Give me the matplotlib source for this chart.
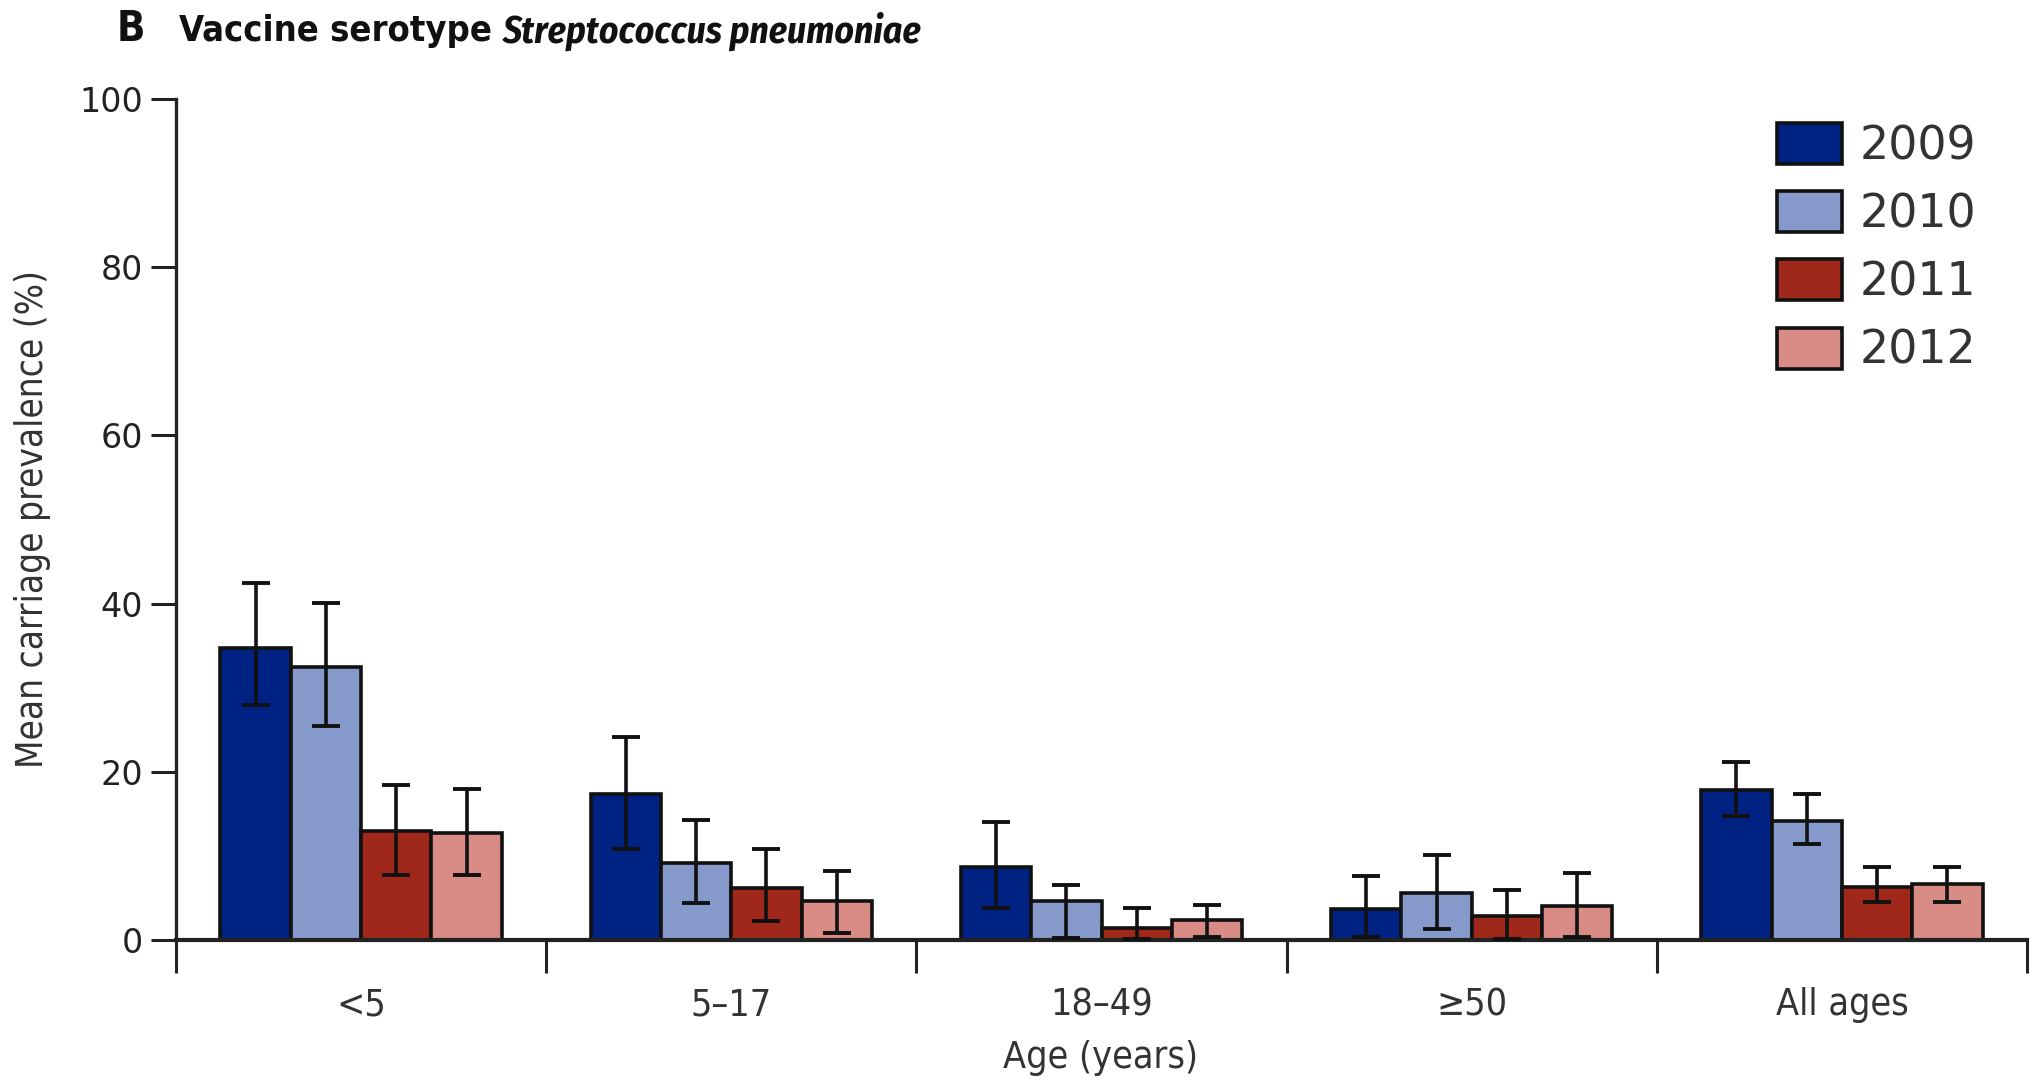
import matplotlib
matplotlib.use("Agg")
import matplotlib.pyplot as plt
from matplotlib import font_manager as fm
from matplotlib.font_manager import FontProperties
import numpy as np

# ---- data ----
groups = ["<5", "5\u201317", "18\u201349", "\u226550", "All ages"]
years = ["2009", "2010", "2011", "2012"]
mean_2009 = [34.7, 17.4, 8.7, 3.7, 17.8]
mean_2010 = [32.5, 9.2, 4.6, 5.6, 14.2]
mean_2011 = [13.0, 6.2, 1.4, 2.9, 6.3]
mean_2012 = [12.7, 4.6, 2.4, 4.0, 6.6]
low_2009 = [27.9, 10.8, 3.8, 0.3, 14.7]
high_2009 = [42.4, 24.1, 14.0, 7.6, 21.2]
low_2010 = [25.4, 4.4, 0.2, 1.3, 11.4]
high_2010 = [40.1, 14.3, 6.5, 10.1, 17.4]
low_2011 = [7.7, 2.2, 0.1, 0.1, 4.5]
high_2011 = [18.4, 10.8, 3.8, 5.9, 8.7]
low_2012 = [7.7, 0.8, 0.3, 0.3, 4.5]
high_2012 = [18.0, 8.2, 4.2, 8.0, 8.7]
yticks = [0, 20, 40, 60, 80, 100]

means = [mean_2009, mean_2010, mean_2011, mean_2012]
lows = [low_2009, low_2010, low_2011, low_2012]
highs = [high_2009, high_2010, high_2011, high_2012]
colors = ["#002383", "#8599CB", "#A0281B", "#D98B85"]


def wnum(w):
    if isinstance(w, (int, float)):
        return int(w)
    return {"normal": 400, "regular": 400, "book": 400, "bold": 700,
            "medium": 500, "semibold": 600, "light": 300}.get(str(w).lower(), 400)


def condensed_font(bold=False, italic=False):
    want_w = 700 if bold else 400
    want_s = "italic" if italic else "normal"
    best = None
    for f in fm.fontManager.ttflist:
        st = str(f.stretch).lower()
        if "condensed" not in st or "extra" in st or "ultra" in st:
            continue
        if f.style != want_s:
            continue
        if abs(wnum(f.weight) - want_w) > 100:
            continue
        score = 0 if "Sans" in f.name else 1
        if best is None or score < best[0]:
            best = (score, f.fname)
    if best:
        return best[1]
    return None


def fp(size, bold=False, italic=False):
    path = condensed_font(bold, italic)
    if path:
        return FontProperties(fname=path, size=size)
    return FontProperties(family="Liberation Sans", size=size,
                          weight="bold" if bold else "normal",
                          style="italic" if italic else "normal")


W, H = 2044, 1082
fig = plt.figure(figsize=(W / 100, H / 100), dpi=100)
ax = fig.add_axes([176 / W, 1 - 940 / H, 1851 / W, 841 / H])

x = np.arange(len(groups))
bw = 0.19
for i in range(4):
    xs = x + (i - 1.5) * bw
    m = np.array(means[i])
    lo = m - np.array(lows[i])
    hi = np.array(highs[i]) - m
    ax.bar(xs, m, width=bw, color=colors[i], edgecolor="#111111", linewidth=2.6,
           label=years[i], zorder=2)
    ax.errorbar(xs, m, yerr=[lo, hi], fmt="none", ecolor="#111111",
                elinewidth=2.6, capsize=10, capthick=2.8, zorder=3)

ax.set_xlim(-0.5, 4.5)
ax.set_ylim(0, 100)
for s in ["top", "right"]:
    ax.spines[s].set_visible(False)
ax.spines["left"].set_linewidth(2.4)
ax.spines["bottom"].set_linewidth(3.0)
ax.spines["left"].set_color("#222222")
ax.spines["bottom"].set_color("#222222")

ax.set_yticks(yticks)
ax.set_yticklabels([str(v) for v in yticks], fontsize=24, family="DejaVu Sans", color="#222222")
ax.tick_params(axis="y", length=18, width=2.2, pad=6, color="#222222")

ax.set_xticks(np.arange(-0.5, 5.0, 1.0))
ax.set_xticklabels([])
ax.tick_params(axis="x", which="major", length=24, width=2.2, direction="out", color="#222222")
ax.set_xticks(x, minor=True)
ax.set_xticklabels(groups, minor=True, fontproperties=fp(27), color="#333333")
ax.tick_params(axis="x", which="minor", length=0, pad=34)

fig.text(1101 / W, 1 - 1058 / H, "Age (years)", ha="center", va="center",
         fontproperties=fp(27), color="#333333")
fig.text(33 / W, 1 - 519 / H, "Mean carriage prevalence (%)", ha="center", va="center",
         rotation=90, fontproperties=fp(26.5), color="#333333")

leg = ax.legend(loc="upper left", bbox_to_anchor=(1777 / W, 1 - 123 / H),
                bbox_transform=fig.transFigure, frameon=False, borderpad=0,
                borderaxespad=0, handlelength=1.42, handleheight=1.0,
                labelspacing=0.48, handletextpad=0.38,
                prop={"family": "DejaVu Sans", "size": 33})
for t in leg.get_texts():
    t.set_color("#333333")

# title
fig.text(117 / W, 1 - 29 / H, "B", ha="left", va="center",
         fontproperties=fp(30, bold=True), color="#111111")
t2 = fig.text(179 / W, 1 - 31 / H, "Vaccine serotype ", ha="left", va="center",
              fontproperties=fp(26, bold=True), color="#111111")
r = fig.canvas.get_renderer()
bb = t2.get_window_extent(r)
fig.text(bb.x1 / W, 1 - 31 / H, "Streptococcus pneumoniae", ha="left", va="center",
         fontproperties=fp(27, bold=True, italic=True), color="#111111")

fig.savefig("out.png", dpi=100)
